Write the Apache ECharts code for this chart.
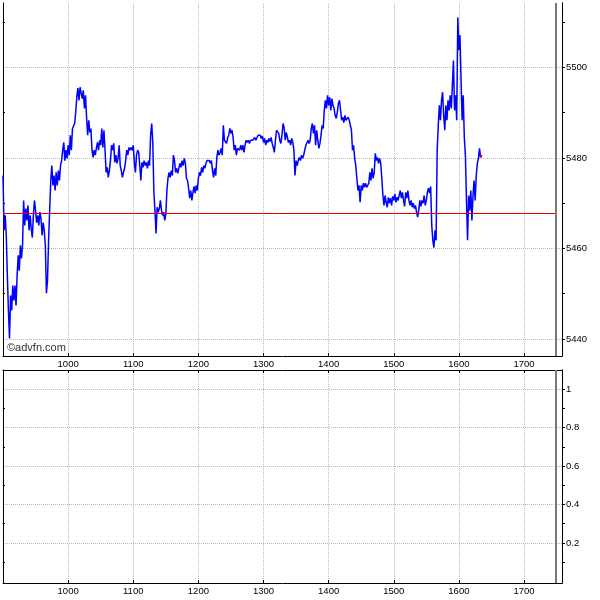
<!DOCTYPE html>
<html><head><meta charset="utf-8">
<script src="https://cdn.jsdelivr.net/npm/echarts@6/dist/echarts.min.js"></script>
<style>html,body{margin:0;padding:0;background:#fff}#c{width:600px;height:600px}</style>
</head><body><div id="c"></div>
<script>
// minutes after 09:00 of the first price; one price per minute
const startMinute = 0;
const prices = [
5476.1,5464.0,5467.3,5462.9,5454.0,5446.3,5440.1,5449.6,5446.3,5451.8,
5448.5,5451.8,5447.4,5454.0,5458.5,5455.1,5460.7,5457.8,5460.7,5470.6,
5465.1,5468.8,5466.2,5469.5,5464.0,5467.3,5464.4,5462.4,5467.3,5470.6,
5468.4,5465.7,5467.3,5465.1,5468.0,5466.6,5462.9,5465.7,5464.0,5460.7,
5450.1,5452.9,5461.8,5468.4,5475.0,5478.3,5473.9,5476.1,5472.8,5476.8,
5473.9,5477.2,5475.0,5478.3,5479.4,5481.7,5483.4,5479.4,5481.7,5479.9,
5482.8,5480.6,5485.0,5481.7,5486.5,5486.1,5487.6,5490.1,5493.4,5495.4,
5492.7,5495.6,5496.0,5493.1,5494.9,5490.9,5493.8,5489.0,5485.0,5488.3,
5485.6,5486.5,5481.7,5480.1,5481.7,5480.6,5482.1,5483.4,5481.7,5483.9,
5482.8,5486.5,5482.3,5486.1,5481.7,5476.8,5477.9,5475.7,5477.2,5479.4,
5482.8,5481.7,5483.2,5479.0,5480.6,5478.8,5479.9,5482.8,5478.3,5477.2,
5475.7,5476.8,5477.7,5479.4,5481.7,5480.6,5482.3,5481.7,5482.3,5481.7,
5482.8,5479.0,5476.8,5480.6,5481.7,5481.2,5478.3,5475.0,5479.0,5477.9,
5479.4,5478.3,5479.0,5477.7,5479.4,5478.3,5485.0,5487.6,5483.4,5472.4,
5468.4,5463.3,5469.1,5468.0,5468.8,5470.6,5468.4,5467.3,5468.0,5466.2,
5467.5,5472.8,5475.5,5476.8,5475.7,5477.2,5476.1,5480.6,5479.4,5476.8,
5477.7,5476.6,5477.7,5478.8,5477.9,5479.4,5478.3,5479.9,5478.8,5475.5,
5475.0,5473.3,5471.1,5472.8,5470.6,5472.4,5473.7,5472.2,5473.9,5472.8,
5475.5,5476.8,5476.1,5477.9,5476.8,5478.3,5477.7,5478.8,5479.4,5479.0,
5479.4,5478.8,5479.4,5477.2,5475.7,5477.7,5476.1,5480.1,5481.7,5480.6,
5481.2,5482.1,5480.6,5487.2,5483.9,5484.3,5483.2,5484.5,5485.0,5486.5,
5485.4,5486.1,5484.5,5481.7,5482.8,5480.6,5482.1,5482.3,5481.7,5482.8,
5481.7,5482.8,5481.2,5482.8,5483.9,5483.4,5483.9,5483.2,5483.9,5484.3,
5483.9,5484.3,5484.5,5483.9,5484.5,5485.0,5485.4,5485.0,5484.3,5484.8,
5483.4,5484.3,5482.8,5483.9,5483.4,5484.3,5483.6,5484.5,5483.2,5482.3,
5481.2,5483.9,5486.1,5486.5,5485.4,5483.9,5483.2,5485.0,5487.6,5486.7,
5483.9,5485.6,5484.5,5483.4,5483.9,5482.8,5484.3,5483.4,5481.7,5476.1,
5479.4,5478.3,5479.4,5480.1,5479.4,5480.6,5479.9,5480.6,5481.7,5482.8,
5483.2,5483.9,5483.2,5483.9,5486.5,5487.6,5485.4,5487.2,5482.8,5486.1,
5483.9,5482.1,5483.2,5485.0,5487.2,5486.5,5490.5,5492.7,5490.9,5493.8,
5491.6,5493.4,5490.5,5493.1,5491.6,5490.9,5489.4,5488.7,5490.1,5492.0,
5492.7,5490.5,5488.3,5489.0,5487.8,5489.4,5488.3,5488.7,5489.0,5488.3,
5488.7,5486.1,5481.7,5482.8,5479.9,5478.3,5475.5,5472.8,5473.9,5470.2,
5473.9,5472.8,5474.4,5473.5,5474.4,5473.5,5473.9,5474.4,5476.8,5475.0,
5477.7,5475.5,5476.8,5481.0,5479.4,5480.1,5478.8,5479.9,5478.8,5475.5,
5471.7,5469.5,5471.7,5470.2,5469.1,5471.3,5470.0,5471.1,5469.5,5471.5,
5470.6,5472.0,5470.2,5471.3,5470.6,5471.7,5472.8,5471.1,5472.4,5470.6,
5469.3,5472.4,5471.1,5472.8,5470.6,5469.5,5470.6,5469.1,5470.0,5468.8,
5469.5,5468.0,5466.9,5468.4,5470.6,5469.3,5470.6,5470.0,5471.7,5469.5,
5470.6,5472.4,5473.3,5472.2,5473.7,5465.1,5461.8,5460.2,5464.0,5461.8,
5481.7,5487.2,5491.6,5488.3,5492.7,5494.5,5489.4,5486.1,5491.6,5488.3,
5492.7,5490.5,5493.8,5490.9,5496.0,5501.5,5490.5,5493.8,5488.3,5511.0,
5503.8,5507.1,5497.1,5488.3,5493.8,5484.5,5480.6,5470.6,5461.8,5471.7,
5468.4,5472.8,5466.2,5471.7,5475.0,5470.6,5476.1,5478.8,5479.9,5482.1,
5480.1,5480.6
];
const prevClose = 5467.7;
const closeMinute = 509;          // end-of-session marker
const axisMaxMinute = 515;
const priceMin = 5436.25, priceMax = 5514.2;
const priceLabels = [5440, 5460, 5480, 5500];
const priceMinorTicks = [5450, 5470, 5490, 5510];
const volMin = -0.008, volMax = 1.099;
const volLabels = [0.2, 0.4, 0.6, 0.8, 1];
const volMinorTicks = [0.1, 0.3, 0.5, 0.7, 0.9];
const watermark = '©advfn.com';

const FONT = '"Liberation Sans", Arial, sans-serif';
const priceData = prices.map((p, i) => [startMinute + i, p]);
const lastSeg = priceData.slice(-2);

const gridLine = {show: true, lineStyle: {color: '#b2baba', type: [1, 1], width: 1}};
const black = {color: '#000', width: 1};

function xAx(gi, pos, showLabel, showSplit) {
  return {
    type: 'value', gridIndex: gi, position: pos, min: 0, max: axisMaxMinute, interval: 60,
    axisLine: {show: true, onZero: false, lineStyle: black},
    axisTick: {show: true, inside: true, length: 3, lineStyle: black},
    axisLabel: {show: showLabel, margin: 3, fontSize: 9.5, color: '#000', fontFamily: FONT,
      showMinLabel: false, showMaxLabel: false,
      formatter: v => (v > 0 && v % 60 === 0) ? String(900 + v / 60 * 100) : ''},
    splitLine: showSplit ? gridLine : {show: false}
  };
}
function yMain(gi, min, max, vals) {
  return {
    type: 'value', gridIndex: gi, position: 'right', min, max,
    axisLine: {show: true, onZero: false, lineStyle: black},
    axisTick: {show: true, length: 3, customValues: vals, lineStyle: black},
    axisLabel: {show: true, margin: 4, fontSize: 9.5, color: '#000', fontFamily: FONT, customValues: vals,
      formatter: v => String(v)},
    splitLine: gridLine
  };
}
function yAux(gi, min, max, vals, pos, inside) {
  return {
    type: 'value', gridIndex: gi, position: pos, min, max,
    axisLine: {show: true, onZero: false, lineStyle: black},
    axisTick: {show: true, length: inside ? 2 : 3, inside, customValues: vals, lineStyle: black},
    axisLabel: {show: false}, splitLine: {show: false}
  };
}

const chart = echarts.init(document.getElementById('c'), null, {renderer: 'canvas'});
chart.setOption({
  animation: false,
  backgroundColor: '#fff',
  grid: [
    {left: 3, right: 38, top: 3, height: 353},
    {left: 3, right: 38, top: 370, height: 213}
  ],
  xAxis: [
    xAx(0, 'bottom', true, true),
    xAx(1, 'bottom', true, true),
    xAx(1, 'top', false, false)
  ],
  yAxis: [
    yMain(0, priceMin, priceMax, priceLabels),
    yAux(0, priceMin, priceMax, priceMinorTicks, 'right', false),
    yAux(0, priceMin, priceMax, priceMinorTicks, 'left', true),
    yMain(1, volMin, volMax, volLabels),
    yAux(1, volMin, volMax, volMinorTicks, 'right', false),
    yAux(1, volMin, volMax, volMinorTicks, 'left', true)
  ],
  graphic: [{
    type: 'text', left: 7, top: 342, z: 100,
    style: {text: watermark, font: '11px ' + FONT, fill: '#333'}
  }],
  series: [
    {
      type: 'line', xAxisIndex: 0, yAxisIndex: 0, data: priceData, showSymbol: false, symbol: 'none',
      lineStyle: {color: '#0000ff', width: 1.5}, z: 3,
      markLine: {
        silent: true, symbol: ['none', 'none'], label: {show: false}, animation: false,
        data: [
          [{coord: [startMinute, prevClose], lineStyle: {color: '#e00000', width: 1, type: 'solid'}},
           {coord: [closeMinute, prevClose]}],
          {xAxis: closeMinute, lineStyle: {color: '#7a7a7a', width: 2, type: 'solid'}}
        ]
      }
    },
    {
      type: 'line', xAxisIndex: 0, yAxisIndex: 0, data: lastSeg, showSymbol: false, symbol: 'none',
      lineStyle: {color: '#ff0000', width: 2}, z: 4
    },
    {
      type: 'line', xAxisIndex: 1, yAxisIndex: 3, data: [], symbol: 'none',
      markLine: {
        silent: true, symbol: ['none', 'none'], label: {show: false}, animation: false,
        data: [{xAxis: closeMinute, lineStyle: {color: '#7a7a7a', width: 2, type: 'solid'}}]
      }
    }
  ]
});
</script></body></html>
